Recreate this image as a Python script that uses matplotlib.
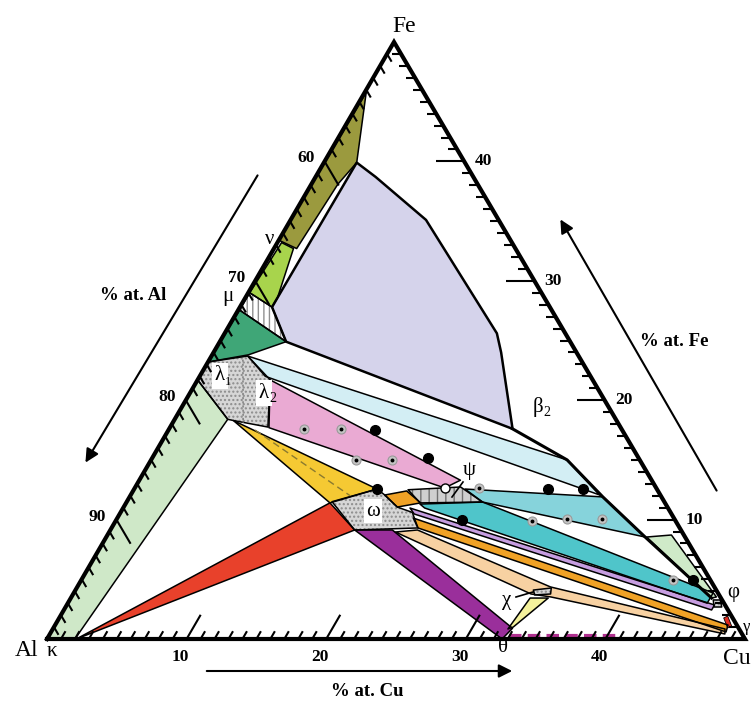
import numpy as np
import matplotlib
matplotlib.use("Agg")
import matplotlib.pyplot as plt
from matplotlib.patches import Polygon
from matplotlib.collections import LineCollection

# corners of the partial triangle (Al, Cu50Al50, Fe50Al50) in figure pixels
AL = (47.0, 639.0)
CU = (745.0, 639.0)
FE = (394.0, 42.0)

# ---- phase fields, vertices as (at.% Cu, at.% Fe) ----
olive = [(0.1, 45.8), (2.35, 39.9), (1.9, 38.1), (1.63, 32.7), (0.0, 33.4)]
nu_field = [(0.3, 33.2), (1.4, 32.7), (2.3, 28.6), (2.3, 27.8), (0.1, 29.0)]
mu_field = [(0.1, 29.0), (2.3, 27.8), (4.75, 24.9), (0.1, 27.55)]
dark_green = [(0.1, 27.55), (4.75, 24.9), (2.6, 23.8), (0.0, 23.2)]
beta_field = [(2.35, 39.9), (4.3, 38.7), (9.7, 35.1), (19.5, 25.6), (20.6, 24.0),
              (24.6, 17.6), (4.75, 24.9), (2.3, 27.8)]
kappa_band = [(0.0, 0.0), (2.0, 0.0), (3.8, 18.4), (0.0, 21.7)]
lambda_field = [(0.0, 23.2), (2.6, 23.7), (5.2, 21.7), (7.0, 17.75), (4.25, 18.3),
                (3.8, 18.4), (0.0, 21.7)]
lambda_split = [(2.4, 23.4), (5.05, 18.1)]
light_blue = [(2.6, 23.7), (29.8, 15.0), (33.6, 12.06), (4.7, 22.0)]
pink = [(5.2, 21.7), (23.0, 13.3), (22.2, 12.65), (7.1, 17.7)]
yellow = [(4.25, 18.3), (17.4, 12.56), (14.6, 11.4)]
yellow_dash = [(6.2, 17.5), (15.75, 12.0)]
omega_field = [(14.7, 11.5), (17.4, 12.56), (18.2, 12.06), (19.6, 11.05), (20.9, 10.6),
               (21.95, 9.3), (17.5, 9.13)]
orange_small = [(18.2, 12.06), (19.6, 12.4), (21.1, 11.4), (19.6, 11.05)]
psi_field = [(19.65, 12.5), (23.3, 12.73), (25.5, 11.47), (21.06, 11.4)]
red = [(2.1, 0.0), (14.6, 11.4), (17.5, 9.13)]
purple = [(17.5, 9.13), (20.2, 9.13), (32.9, 0.9), (32.6, 0.0)]
lilac = [(20.55, 10.97), (46.4, 2.85), (46.4, 2.43), (21.1, 10.47)]
orange = [(21.2, 10.13), (48.2, 1.17), (48.35, 0.59), (21.95, 9.3)]
peach = [(20.5, 8.96), (22.0, 9.13), (33.9, 4.36), (48.15, 0.84), (48.35, 0.42),
         (34.35, 3.52), (32.8, 3.77)]
chi_field = [(32.8, 4.1), (34.0, 4.27), (34.2, 3.77), (33.1, 3.69)]
pale_yellow = [(32.9, 3.43), (34.2, 3.43), (32.9, 1.0), (32.6, 0.84)]
teal_light = [(23.7, 12.56), (33.9, 11.9), (38.6, 8.54), (25.5, 11.47)]
teal = [(21.1, 11.3), (25.5, 11.47), (45.8, 3.85), (45.8, 3.0), (21.6, 10.97)]
pale_green = [(38.7, 8.54), (40.4, 8.71), (46.2, 3.52), (45.9, 3.43)]
phi_field = [(46.1, 3.27), (46.6, 3.27), (47.0, 2.68), (46.45, 2.68)]
gamma_field = [(47.6, 1.76), (47.8, 1.93), (48.5, 1.09), (48.3, 0.92)]

beta_limit = [(24.6, 17.6), (29.8, 15.0), (33.9, 11.9), (38.6, 8.54), (45.9, 3.43)]
theta_range = [(33.0, 0.25), (40.6, 0.25)]

# alloy compositions
black_cu = [14.8, 19.76, 17.4, 24.77, 29.64, 32.15, 43.8]
black_fe = [17.5, 15.16, 12.56, 9.97, 12.56, 12.56, 4.94]
grey_cu = [9.67, 12.32, 14.68, 17.26, 24.65, 29.83, 32.25, 34.76, 42.38]
grey_fe = [17.6, 17.6, 15.0, 15.0, 12.65, 9.88, 10.05, 10.05, 4.94]
open_cu = [22.2]
open_fe = [12.65]

major = [10, 20, 30, 40]
left_labels = [60, 70, 80, 90]


def tern(cu, fe):
    u = np.asarray(cu, float) / 50.0
    v = np.asarray(fe, float) / 50.0
    x = AL[0] + u * (CU[0] - AL[0]) + v * (FE[0] - AL[0])
    y = AL[1] + u * (CU[1] - AL[1]) + v * (FE[1] - AL[1])
    return x, y


def unit(a, b):
    d = np.array(b) - np.array(a)
    return d / np.hypot(*d)


fig = plt.figure(figsize=(7.53, 7.04), dpi=100)
ax = fig.add_axes([0, 0, 1, 1])
ax.set_xlim(0, 753)
ax.set_ylim(704, 0)
ax.axis("off")

SERIF = "Liberation Serif"


def region(pts, fc, hatch=None, hc="#888888", lw=1.1, z=2):
    cu, fe = zip(*pts)
    x, y = tern(cu, fe)
    xy = np.column_stack([x, y])
    if hatch:
        ax.add_patch(Polygon(xy, closed=True, facecolor=fc, edgecolor=hc,
                             hatch=hatch, lw=0, zorder=z))
    else:
        ax.add_patch(Polygon(xy, closed=True, facecolor=fc, edgecolor="none", zorder=z))
    ax.add_patch(Polygon(xy, closed=True, fill=False, edgecolor="black",
                         lw=lw, joinstyle="round", zorder=z + 0.5))


def line(pts, **kw):
    cu, fe = zip(*pts)
    x, y = tern(cu, fe)
    ax.plot(x, y, **kw)


plt.rcParams["hatch.linewidth"] = 1.0

region(kappa_band, "#cfe8c8")
region(olive, "#9b9a3e")
region(nu_field, "#a8d44c")
region(mu_field, "white", hatch="|||", hc="#909090")
region(dark_green, "#3fa677")
region(beta_field, "#d5d3eb", lw=1.8)
region(lambda_field, "#d6d6d6", hatch="....", hc="#8c8c8c")
region(light_blue, "#d3eef4")
region(pink, "#eaaad3")
region(yellow, "#f5c933")
region(red, "#e8412b")
region(purple, "#9a2f9b")
region(peach, "#f7d1a2")
region(orange, "#f0a226")
region(lilac, "#c69de0")
region(teal, "#4fc5ca")
region(teal_light, "#86d3db")
region(pale_green, "#cfeac8")
region(pale_yellow, "#f4f19c")
region(omega_field, "#d6d6d6", hatch="....", hc="#8c8c8c")
region(orange_small, "#f0a226")
region(psi_field, "#cfcfcf", hatch="||", hc="#707070")
region(chi_field, "#d6d6d6", hatch="....", hc="#8c8c8c")
region(phi_field, "#d6d6d6", hatch="....", hc="#8c8c8c")
region(gamma_field, "#e02a1e", lw=0.6)

line(lambda_split, color="#777777", lw=1.0, ls=(0, (1.5, 1.5)), zorder=3)
line(yellow_dash, color="#8a7a30", lw=1.0, ls=(0, (5, 3)), zorder=3)
line(beta_limit, color="black", lw=2.2, solid_joinstyle="round", zorder=4)
line(theta_range, color="#b0308f", lw=3.0, ls=(0, (3, 1.5)), zorder=5)

# alloys
bx, by = tern(black_cu, black_fe)
ax.plot(bx, by, "o", ms=7, color="black", zorder=6)
gx, gy = tern(grey_cu, grey_fe)
ax.plot(gx, gy, "o", ms=6.5, mfc="#c4c4c4", mec="#9a9a9a", mew=0.8, zorder=6)
ax.plot(gx, gy, "o", ms=1.8, color="black", zorder=7)
ox, oy = tern(open_cu, open_fe)
ax.plot(ox, oy, "o", ms=6.5, mfc="white", mec="black", mew=1.0, zorder=6)

# triangle frame
tx, ty = tern([0, 50, 0, 0], [0, 0, 50, 0])
ax.plot(tx, ty, color="black", lw=3.0, solid_joinstyle="miter", zorder=8)

# ticks, each parallel to the next side
segs = []
d_bot = unit(AL, FE)
d_right = unit(CU, AL)
d_left = unit(FE, CU)
for t in range(1, 50):
    ln = 28 if t in major else 9
    x, y = tern(t, 0)
    segs.append([(x, y), (x + ln * d_bot[0], y + ln * d_bot[1])])
    x, y = tern(50 - t, t)
    segs.append([(x, y), (x + ln * d_right[0], y + ln * d_right[1])])
    x, y = tern(0, t)
    ln = 28 if (100 - t) in left_labels else 9
    segs.append([(x, y), (x + ln * d_left[0], y + ln * d_left[1])])
ax.add_collection(LineCollection(segs, colors="black", linewidths=1.5, zorder=8))

num = dict(fontfamily=SERIF, fontweight="bold", fontsize=12.5, ha="center", va="center", zorder=9)
for t in major:
    x, y = tern(t, 0)
    ax.text(x - 6, 657, str(t), **num)
    x, y = tern(50 - t, t)
    ax.text(x + 19, y, str(t), **num)
for a in left_labels:
    x, y = tern(0, 100 - a)
    ax.text(x - 19, y - 3, str(a), **num)

el = dict(fontfamily=SERIF, fontsize=17, va="center", zorder=9)
ax.text(404, 26, "Fe", ha="center", **el)
ax.text(27, 651, "Al", ha="center", **el)
ax.text(751, 659, "Cu", ha="right", **el)

gk = dict(fontfamily=SERIF, fontsize=15, ha="center", va="center", zorder=9)
ax.text(52, 651, "κ", **gk)
ax.text(270, 239, "ν", **gk)
ax.text(228, 297, "μ", **gk)
ax.text(503, 647, "θ", **gk)
ax.text(507, 601, "χ", **gk)
ax.text(469, 471, "ψ", **gk)
ax.text(733, 593, "φ", **gk)
ax.text(743, 627, "γ", fontfamily=SERIF, fontsize=12, ha="left", va="center", zorder=9)
ax.text(538, 407, "β", **gk)
ax.text(547, 413, "2", fontfamily=SERIF, fontsize=10, ha="center", va="center", zorder=9)

box = dict(boxstyle="square,pad=0.12", fc="white", ec="none")
ax.text(373, 511, "ω", bbox=box, **gk)
ax.text(220, 376, "λ", bbox=dict(boxstyle="square,pad=0.15", fc="white", ec="none"), **gk)
ax.text(228, 382, "1", fontfamily=SERIF, fontsize=9, ha="center", va="center", zorder=9)
ax.text(264, 393, "λ", bbox=dict(boxstyle="square,pad=0.15", fc="white", ec="none"), **gk)
ax.text(273, 399, "2", fontfamily=SERIF, fontsize=10, ha="center", va="center", zorder=9)

# leader lines
ax.plot([463, 452], [482, 497], color="black", lw=1.2, zorder=9)
ax.plot([516, 533], [597, 592], color="black", lw=1.2, zorder=9)

# composition arrows and titles
arw = dict(arrowstyle="-|>", color="black", lw=1.5, mutation_scale=20)
ax.annotate("", xy=(84, 465), xytext=(259, 173), arrowprops=arw, zorder=9)
ax.annotate("", xy=(559, 217), xytext=(718, 493), arrowprops=arw, zorder=9)
ax.annotate("", xy=(515, 671), xytext=(204, 671), arrowprops=arw, zorder=9)

ttl = dict(fontfamily=SERIF, fontweight="bold", fontsize=13.5, ha="center", va="center", zorder=9)
ax.text(133, 296, "% at. Al", **ttl)
ax.text(674, 341, "% at. Fe", **ttl)
ax.text(367, 692, "% at. Cu", **ttl)

fig.savefig("out.png", dpi=100)
